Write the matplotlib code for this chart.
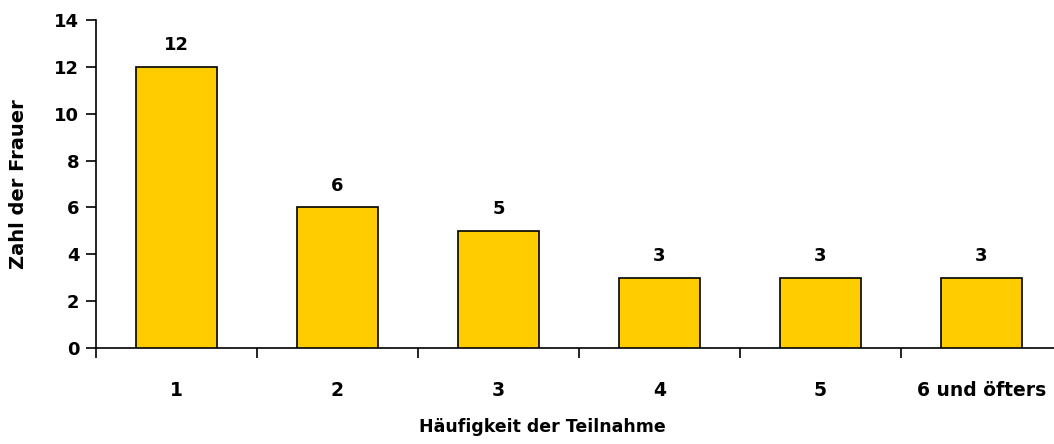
import matplotlib.pyplot as plt
import numpy as np

# data
categories = ['1', '2', '3', '4', '5', '6 und öfters']
counts = [12, 6, 5, 3, 3, 3]

plt.rcParams['font.family'] = ['DejaVu Sans']
plt.rcParams['font.weight'] = 'bold'

fig = plt.figure(figsize=(10.54, 4.44), dpi=100)
ax = fig.add_axes([96/1054, 1 - 348/444, (1062 - 96)/1054, 328/444])

x = np.arange(len(categories))
ax.bar(x, counts, width=0.5, color='#FFCC00', edgecolor='black', linewidth=1.2, zorder=3)

# value labels above bars
for xi, c in zip(x, counts):
    ax.text(xi, c + 0.55, str(c), ha='center', va='bottom', fontsize=13, fontweight='bold')

ax.set_xlim(-0.5, len(categories) - 0.5)
ax.set_ylim(0, 14)
ax.set_yticks(range(0, 15, 2))
ax.set_xticks(x)
ax.set_xticklabels(categories)
ax.set_xticks(np.arange(-0.5, len(categories) - 0.4, 1), minor=True)
ax.tick_params(axis='x', which='major', length=0, pad=24, labelsize=13.5)
ax.tick_params(axis='x', which='minor', length=7, width=1.2, direction='out')
ax.tick_params(axis='y', length=7, width=1.2, direction='out', labelsize=13, pad=5)

for s in ['top', 'right']:
    ax.spines[s].set_visible(False)
for s in ['left', 'bottom']:
    ax.spines[s].set_linewidth(1.2)

ax.set_xlabel('Häufigkeit der Teilnahme', fontsize=12.5, fontweight='bold')
ax.xaxis.set_label_coords(0.462, -0.212)
ax.set_ylabel('Zahl der Frauer', fontsize=14, fontweight='bold', labelpad=19)

fig.savefig('out.png', dpi=100)
